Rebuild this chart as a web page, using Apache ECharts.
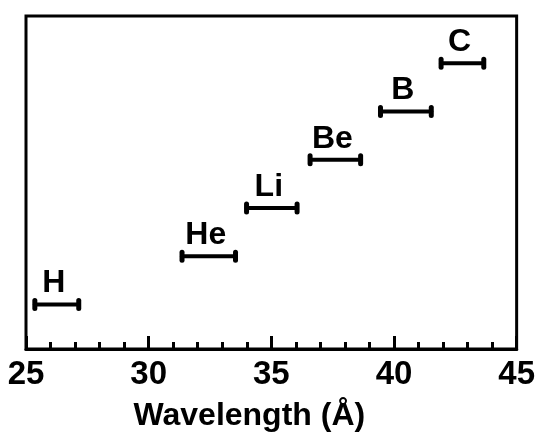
<!DOCTYPE html>
<html>
<head>
<meta charset="utf-8">
<script src="https://cdn.jsdelivr.net/npm/echarts@6/dist/echarts.min.js"></script>
<style>html,body{margin:0;padding:0;background:#fff}#c{width:538px;height:437px}</style>
</head>
<body>
<div id="c"></div>
<script>
// Data
var elements = ['H', 'He', 'Li', 'Be', 'B', 'C'];
var lowWavelength = [25.36, 31.36, 33.99, 36.58, 39.45, 41.92];
var highWavelength = [27.15, 33.54, 36.05, 38.64, 41.52, 43.66];
var level = [1, 2, 3, 4, 5, 6];
var xTicks = [25, 30, 35, 40, 45];

var font = '"Liberation Sans", Arial, sans-serif';
var data = elements.map(function (e, i) {
  return [lowWavelength[i], highWavelength[i], level[i], e];
});

var chart = echarts.init(document.getElementById('c'), null, {renderer: 'canvas'});
chart.setOption({
  animation: false,
  backgroundColor: '#fff',
  grid: {left: 26, right: 18, top: 16, bottom: 84, show: true, borderColor: '#000', borderWidth: 3},
  xAxis: {
    type: 'value', min: xTicks[0], max: xTicks[xTicks.length - 1], interval: 5,
    name: 'Wavelength (Å)', nameLocation: 'middle', nameGap: 51,
    nameTextStyle: {fontFamily: font, fontWeight: 'bold', fontSize: 32, color: '#000', padding: [0, 44, 0, 0]},
    axisLine: {show: true, lineStyle: {color: '#000', width: 3}},
    axisTick: {show: true, inside: true, length: 13, lineStyle: {color: '#000', width: 3}},
    minorTick: {show: true, splitNumber: 5, length: 7, lineStyle: {color: '#000', width: 3}},
    axisLabel: {fontFamily: font, fontWeight: 'bold', fontSize: 33, color: '#000', margin: 9},
    splitLine: {show: false}
  },
  yAxis: {type: 'value', min: 0.08, max: 6.98, show: false, splitLine: {show: false}},
  series: [{
    type: 'custom',
    data: data,
    renderItem: function (params, api) {
      var p1 = api.coord([api.value(0), api.value(2)]);
      var p2 = api.coord([api.value(1), api.value(2)]);
      var name = elements[params.dataIndex];
      var ls = {stroke: '#000', lineWidth: 4, lineCap: 'round'};
      var cs = {stroke: '#000', lineWidth: 5, lineCap: 'round'};
      return {
        type: 'group',
        children: [
          {type: 'line', shape: {x1: p1[0], y1: p1[1], x2: p2[0], y2: p2[1]}, style: ls},
          {type: 'line', shape: {x1: p1[0], y1: p1[1] - 4, x2: p1[0], y2: p1[1] + 4}, style: cs},
          {type: 'line', shape: {x1: p2[0], y1: p2[1] - 4, x2: p2[0], y2: p2[1] + 4}, style: cs},
          {type: 'text', x: (p1[0] + p2[0]) / 2 - 3, y: p1[1] - 5,
            style: {text: name, fill: '#000', font: 'bold 32px ' + font, align: 'center', verticalAlign: 'bottom'}}
        ]
      };
    }
  }]
});
</script>
</body>
</html>
